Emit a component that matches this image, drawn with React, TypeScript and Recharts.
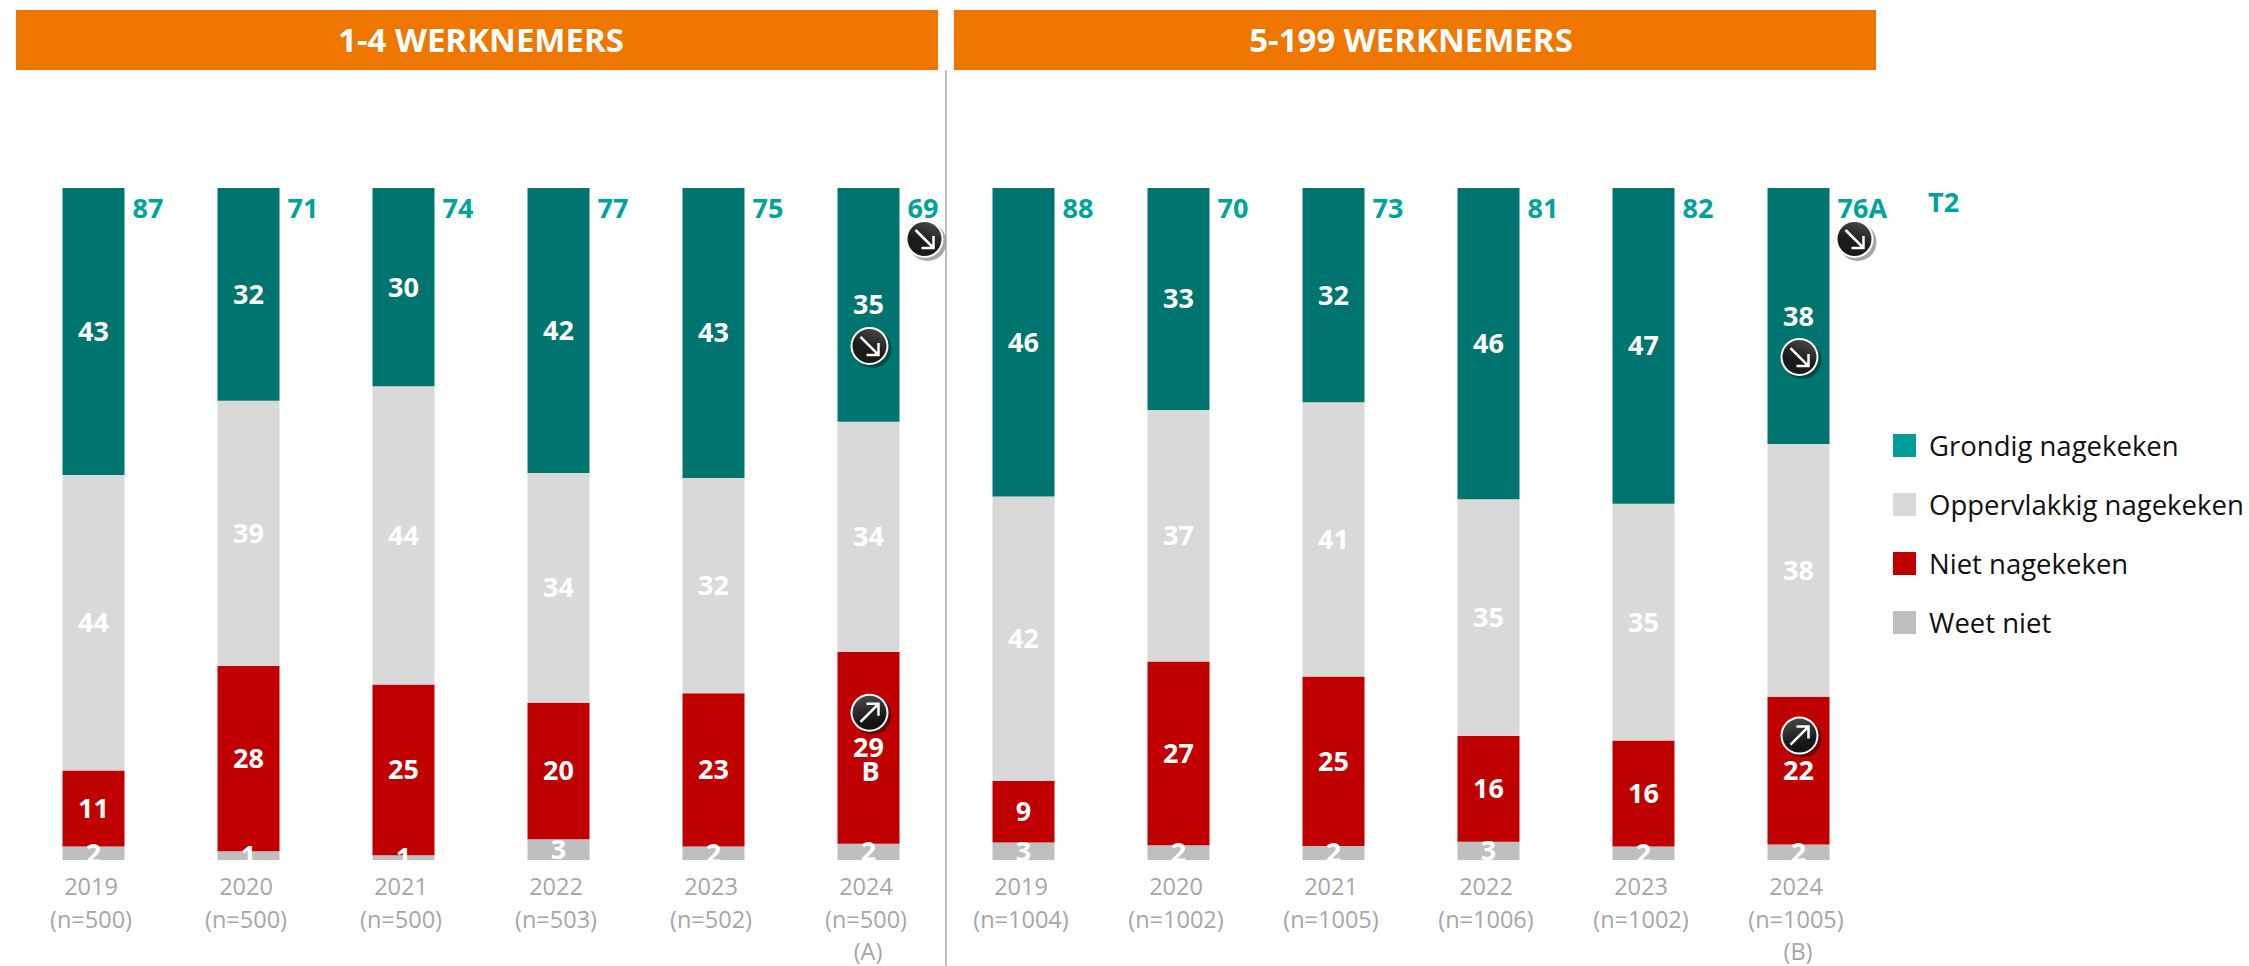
import React from "react";
import { Bar, BarChart, LabelList, Legend, XAxis, YAxis } from "recharts";

const years = ["2019", "2020", "2021", "2022", "2023", "2024", "2019", "2020", "2021", "2022", "2023", "2024"];
const samples = [500, 500, 500, 503, 502, 500, 1004, 1002, 1005, 1006, 1002, 1005];
const waveNotes = ["", "", "", "", "", "(A)", "", "", "", "", "", "(B)"];

const grondig = [42.7, 31.6, 29.5, 42.4, 43.1, 34.8, 45.9, 33, 31.9, 46.3, 47, 38.1];
const oppervlakkig = [44, 39.4, 44.4, 34.2, 32, 34.2, 42.3, 37.4, 40.8, 35.2, 35.2, 37.6];
const niet = [11.3, 27.5, 25.4, 20.3, 22.8, 28.6, 9.2, 27.3, 25.2, 15.8, 15.8, 22];
const weetNiet = [2, 1.3, 0.7, 3.1, 2, 2.4, 2.6, 2.2, 2.1, 2.7, 2, 2.3];

const totals = ["87", "71", "74", "77", "75", "69", "88", "70", "73", "81", "82", "76A"];
const totalDown = [5, 11];
const grondigDown = [5, 11];
const nietUp = [5, 11];
const nietNotes: Record<number, string> = { 5: "B" };

const headers = ["1-4 WERKNEMERS", "5-199 WERKNEMERS"];
const legendItems = [
  { name: "Grondig nagekeken", color: "#009C98" },
  { name: "Oppervlakkig nagekeken", color: "#D9D9D9" },
  { name: "Niet nagekeken", color: "#C00000" },
  { name: "Weet niet", color: "#BFBFBF" },
];

const data = years.map((year, i) => ({
  id: `${year} (n=${samples[i]})`,
  grondig: grondig[i],
  oppervlakkig: oppervlakkig[i],
  niet: niet[i],
  weetNiet: weetNiet[i],
}));

const FONT = "'Open Sans', sans-serif";
const TEAL_TEXT = "#00A29C";

function Badge({ cx, cy, up, shadow }: { cx: number; cy: number; up?: boolean; shadow: string }) {
  const id = up ? "badgeUp" : "badgeDown";
  return (
    <g>
      <circle cx={cx + 3} cy={cy + 3} r={19} fill={shadow} />
      <circle cx={cx} cy={cy} r={19} fill="#fff" />
      <circle cx={cx} cy={cy} r={17} fill={`url(#${id})`} />
      {up ? (
        <path
          d={`M${cx - 9} ${cy + 9}L${cx + 9} ${cy - 9}M${cx - 3} ${cy - 9}H${cx + 9}V${cy + 3}`}
          stroke="#fff"
          strokeWidth={2.5}
          fill="none"
        />
      ) : (
        <path
          d={`M${cx - 9} ${cy - 9}L${cx + 9} ${cy + 9}M${cx + 9} ${cy - 3}V${cy + 9}H${cx - 3}`}
          stroke="#fff"
          strokeWidth={2.5}
          fill="none"
        />
      )}
    </g>
  );
}

function segmentLabel(props: any, marked: number[], badgeOffset: number, shadow: string, notes?: Record<number, string>) {
  const { x, y, width, height, value, index } = props;
  const cx = x + width / 2;
  const cy = y + height / 2;
  return (
    <g>
      {marked.includes(index) && <Badge cx={cx + 1} cy={cy + badgeOffset} up={badgeOffset < 0} shadow={shadow} />}
      <text x={cx} y={cy - 1} fill="#fff" fontFamily={FONT} fontWeight={700} fontSize={27} textAnchor="middle" dominantBaseline="central">
        {Math.round(value)}
      </text>
      {notes && notes[index] && (
        <text x={cx + 2} y={cy + 23} fill="#fff" fontFamily={FONT} fontWeight={700} fontSize={27} textAnchor="middle" dominantBaseline="central">
          {notes[index]}
        </text>
      )}
    </g>
  );
}

function totalLabel(props: any) {
  const { x, y, width, index } = props;
  return (
    <g>
      <text x={x + width + 8} y={y + 19} fill={TEAL_TEXT} fontFamily={FONT} fontWeight={700} fontSize={27} dominantBaseline="central">
        {totals[index]}
      </text>
      {totalDown.includes(index) && <Badge cx={x + width + 25} cy={y + 51} shadow="#A6A6A6" />}
    </g>
  );
}

function YearTick({ x, y, payload, index }: any) {
  const i = payload.index ?? index;
  return (
    <g fill="#A6A6A6" fontFamily={FONT} fontSize={23.5} textAnchor="middle">
      <text x={x - 2} y={y + 18} dominantBaseline="central">{years[i]}</text>
      <text x={x - 2} y={y + 51} dominantBaseline="central">{`(n=${samples[i]})`}</text>
      {waveNotes[i] && <text x={x} y={y + 83} dominantBaseline="central">{waveNotes[i]}</text>}
    </g>
  );
}

function SideLegend() {
  return (
    <div style={{ fontFamily: FONT, fontSize: 27.5, color: "#111" }}>
      {legendItems.map((item) => (
        <div key={item.name} style={{ display: "flex", alignItems: "center", height: 59, whiteSpace: "nowrap" }}>
          <span style={{ width: 23, height: 23, background: item.color, marginRight: 13 }} />
          {item.name}
        </div>
      ))}
    </div>
  );
}

export default function App() {
  return (
    <div style={{ position: "absolute", left: 0, top: 0, width: 2249, height: 966, background: "#fff", overflow: "hidden" }}>
      <div style={{ position: "absolute", left: 945, top: 70, width: 2, height: 896, background: "#BFBFBF" }} />
      {headers.map((h, i) => (
        <div
          key={h}
          style={{
            position: "absolute",
            left: i === 0 ? 16 : 954,
            top: 10,
            width: 922,
            height: 60,
            lineHeight: "60px",
            background: "#EF7700",
            color: "#fff",
            fontFamily: FONT,
            fontWeight: 700,
            fontSize: 33,
            textAlign: "center",
            textIndent: i === 0 ? 8 : -8,
          }}
        >
          {h}
        </div>
      ))}
      <div
        style={{ position: "absolute", left: 1928, top: 184, color: TEAL_TEXT, fontFamily: FONT, fontWeight: 700, fontSize: 27, lineHeight: "36px" }}
      >
        T2
      </div>
      <div style={{ position: "absolute", left: 0, top: 0 }}>
        <BarChart
          width={2249}
          height={966}
          data={data}
          stackOffset="expand"
          barSize={62}
          margin={{ left: 15.5, right: 373.5, top: 188, bottom: 0 }}
        >
          <defs>
            <linearGradient id="badgeDown" x1="0.7" y1="0" x2="0.3" y2="1">
              <stop offset="0%" stopColor="#484848" />
              <stop offset="60%" stopColor="#1a1a1a" />
            </linearGradient>
            <linearGradient id="badgeUp" x1="0.3" y1="0" x2="0.5" y2="1">
              <stop offset="0%" stopColor="#484848" />
              <stop offset="80%" stopColor="#141414" />
            </linearGradient>
          </defs>
          <XAxis dataKey="id" axisLine={false} tickLine={false} interval={0} height={106} tick={<YearTick />} />
          <YAxis hide domain={[0, 1]} />
          <Legend
            layout="vertical"
            verticalAlign="middle"
            align="center"
            content={<SideLegend />}
            wrapperStyle={{ position: "absolute", left: 1893, top: 416, width: 356 }}
          />
          <Bar dataKey="weetNiet" stackId="a" fill="#BFBFBF" isAnimationActive={false}>
            <LabelList dataKey="weetNiet" content={(p: any) => segmentLabel(p, [], 0, "")} />
          </Bar>
          <Bar dataKey="niet" stackId="a" fill="#C00000" isAnimationActive={false}>
            <LabelList dataKey="niet" content={(p: any) => segmentLabel(p, nietUp, -35, "#6E0000", nietNotes)} />
          </Bar>
          <Bar dataKey="oppervlakkig" stackId="a" fill="#D9D9D9" isAnimationActive={false}>
            <LabelList dataKey="oppervlakkig" content={(p: any) => segmentLabel(p, [], 0, "")} />
          </Bar>
          <Bar dataKey="grondig" stackId="a" fill="#00756F" isAnimationActive={false}>
            <LabelList dataKey="grondig" content={(p: any) => segmentLabel(p, grondigDown, 41, "#004A46")} />
            <LabelList dataKey="grondig" content={totalLabel} />
          </Bar>
        </BarChart>
      </div>
    </div>
  );
}
